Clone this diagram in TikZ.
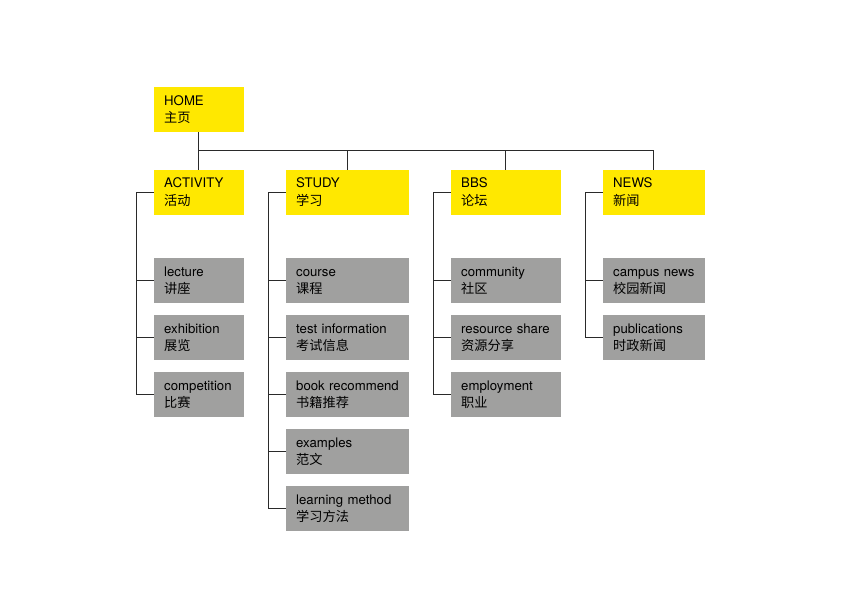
\documentclass[tikz,border=0pt]{standalone}
\usepackage{fontspec}
\setmainfont{TeX Gyre Heros}
\newfontfamily\cjk{Noto Sans CJK SC}
\newcommand\fixln{\vphantom{Ay}}
\definecolor{homeyellow}{HTML}{FFE800}
\definecolor{pagegray}{HTML}{A0A09F}
\definecolor{linegray}{HTML}{2A2A2A}
\tikzset{
  box/.style={anchor=north west, inner xsep=10.5pt, inner ysep=0pt,
    minimum height=45pt, align=left, font=\fontsize{13.2}{17.5}\selectfont},
  homebox/.style={box, fill=homeyellow},
  pagebox/.style={box, fill=pagegray},
  conn/.style={line width=1.2pt, draw=linegray}
}
\begin{document}
\begin{tikzpicture}[x=1pt,y=-1pt]
\useasboundingbox (0,0) rectangle (849,600);
% top levels
\node[homebox, text width=69pt] (home) at (153.5,87) {HOME\fixln\\\cjk 主页};
\node[homebox, text width=69pt] (act) at (153.5,169.5) {ACTIVITY\fixln\\\cjk 活动};
\node[homebox, text width=102pt] (study) at (285.5,169.5) {STUDY\fixln\\\cjk 学习};
\node[homebox, text width=89pt] (bbs) at (450.5,169.5) {BBS\fixln\\\cjk 论坛};
\node[homebox, text width=81pt] (news) at (602.5,169.5) {NEWS\fixln\\\cjk 新闻};
\coordinate (bus) at (home.south |- 0,150.5);
\draw[conn] (home.south) -- (act.north);
\draw[conn] (bus) -| (study.north);
\draw[conn] (bus) -| (bbs.north);
\draw[conn] (bus) -| (news.north);
% brackets
\coordinate (actb) at ([xshift=-17pt]act.west);
\coordinate (studyb) at ([xshift=-17pt]study.west);
\coordinate (bbsb) at ([xshift=-17pt]bbs.west);
\coordinate (newsb) at ([xshift=-17pt]news.west);
\draw[conn] (act.west) -- (actb);
\draw[conn] (study.west) -- (studyb);
\draw[conn] (bbs.west) -- (bbsb);
\draw[conn] (news.west) -- (newsb);
% sub pages
\foreach \t/\c [count=\i] in {lecture/讲座, exhibition/展览, competition/比赛}{
  \node[pagebox, text width=69pt] (act\i) at (153.5,201+57*\i) {\mbox{\t}\fixln\\\cjk \c};
  \draw[conn] (actb) |- (act\i.west);
}
\foreach \t/\c [count=\i] in {course/课程, test information/考试信息,
    book recommend/书籍推荐, examples/范文, learning method/学习方法}{
  \node[pagebox, text width=102pt] (study\i) at (285.5,201+57*\i) {\mbox{\t}\fixln\\\cjk \c};
  \draw[conn] (studyb) |- (study\i.west);
}
\foreach \t/\c [count=\i] in {community/社区, resource share/资源分享, employment/职业}{
  \node[pagebox, text width=89pt] (bbs\i) at (450.5,201+57*\i) {\mbox{\t}\fixln\\\cjk \c};
  \draw[conn] (bbsb) |- (bbs\i.west);
}
\foreach \t/\c [count=\i] in {campus news/校园新闻, publications/时政新闻}{
  \node[pagebox, text width=81pt] (news\i) at (602.5,201+57*\i) {\mbox{\t}\fixln\\\cjk \c};
  \draw[conn] (newsb) |- (news\i.west);
}
\end{tikzpicture}
\end{document}
